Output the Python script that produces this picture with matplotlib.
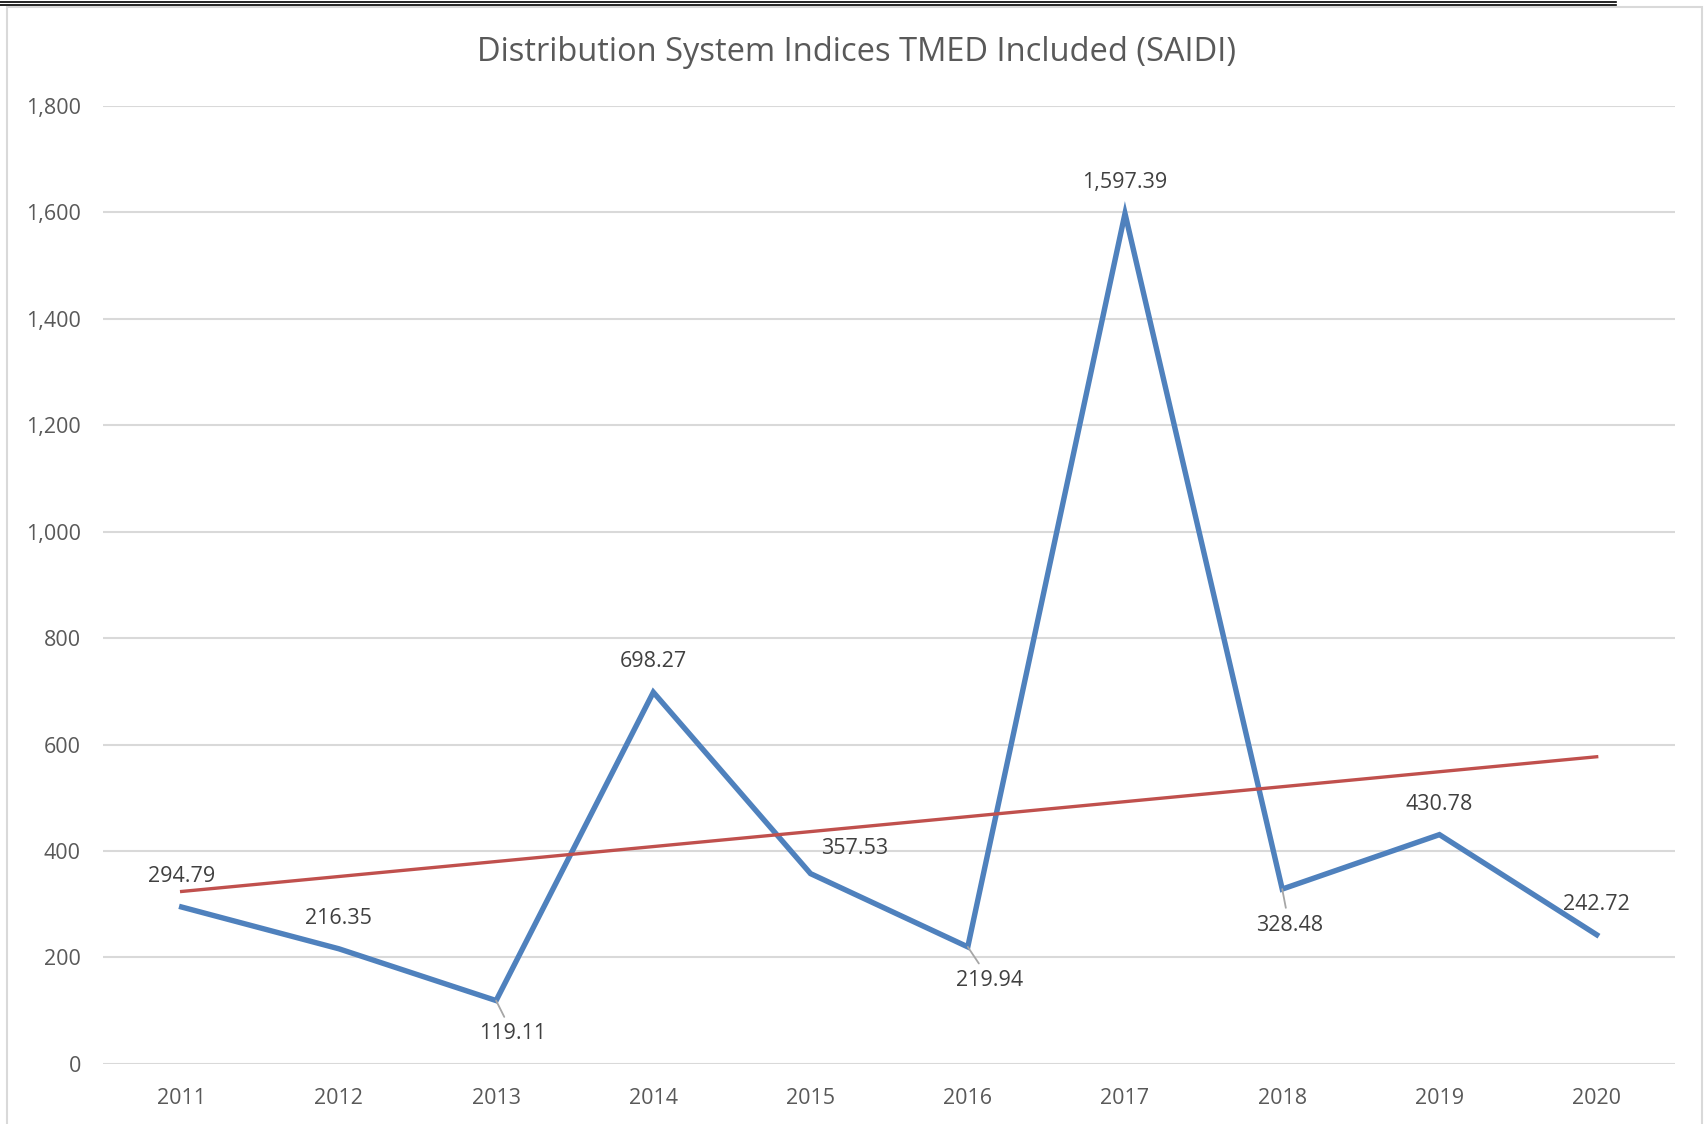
import numpy as np
import matplotlib
matplotlib.use("Agg")
from matplotlib import pyplot as plt
from matplotlib.lines import Line2D
from matplotlib.patches import Rectangle

# Chart data
years = ["2011", "2012", "2013", "2014", "2015", "2016", "2017", "2018", "2019", "2020"]
saidi = [294.79, 216.35, 119.11, 698.27, 357.53, 219.94, 1597.39, 328.48, 430.78, 242.72]
yticks = [0, 200, 400, 600, 800, 1000, 1200, 1400, 1600, 1800]

# label offsets in points (dx, dy) and whether a leader line is drawn
label_pos = [(0, 22), (0, 22), (12, -24), (0, 22), (32, 18),
             (16, -24), (0, 22), (5, -26), (0, 22), (0, 22)]
leader = [False, False, True, False, False, True, False, True, False, False]

txtcol = "#595959"
lblcol = "#404040"
blue = "#4F81BD"
red = "#C0504D"
plt.rcParams['font.family'] = ['Open Sans', 'DejaVu Sans']

fig = plt.figure(figsize=(17.06, 11.24), dpi=100)
ax = fig.add_axes([0.0604, 0.0534, 0.9216, 0.8526])

x = np.arange(len(years))
ax.plot(x, saidi, color=blue, lw=3.9, solid_joinstyle='miter', zorder=3)

# linear trendline (Excel style)
coef = np.polyfit(x, saidi, 1)
ax.plot(x, np.polyval(coef, x), color=red, lw=2.4, zorder=4)

for i, v in enumerate(saidi):
    dx, dy = label_pos[i]
    lab = "{:,.2f}".format(v)
    if leader[i]:
        ax.annotate(lab, xy=(i, v), xytext=(dx, dy), textcoords='offset points',
                    ha='center', va='center', fontsize=15.5, color=lblcol, zorder=5,
                    arrowprops=dict(arrowstyle='-', color='#A6A6A6', lw=1.3,
                                    shrinkA=3, shrinkB=0))
    else:
        ax.annotate(lab, xy=(i, v), xytext=(dx, dy), textcoords='offset points',
                    ha='center', va='center', fontsize=15.5, color=lblcol, zorder=5)

ax.set_xlim(-0.5, len(years) - 0.5)
ax.set_ylim(0, 1800)
ax.set_yticks(yticks)
ax.set_yticklabels(["{:,}".format(t) for t in yticks])
ax.set_xticks(x)
ax.set_xticklabels(years)
ax.yaxis.grid(True, color="#D9D9D9", lw=1.5)
ax.set_axisbelow(True)
for s in ax.spines.values():
    s.set_visible(False)
ax.tick_params(length=0, labelsize=15.5, labelcolor=txtcol)
ax.tick_params(axis='y', pad=16)
ax.tick_params(axis='x', pad=17)

fig.text(0.502, 0.953, "Distribution System Indices TMED Included (SAIDI)", fontsize=23.5,
         color=txtcol, ha='center', va='center')

# chart frame and double rule at the top
fig.patches.append(Rectangle((0.0041, -0.01), 0.9935, 1.004, transform=fig.transFigure,
                             fill=False, edgecolor="#D9D9D9", lw=1.5))
fig.lines.append(Line2D([0, 0.947], [0.9985, 0.9985], transform=fig.transFigure,
                        color="black", lw=1.2))
fig.lines.append(Line2D([0, 0.947], [0.9955, 0.9955], transform=fig.transFigure,
                        color="black", lw=1.2))

fig.savefig("out.png", dpi=100, facecolor="white")
